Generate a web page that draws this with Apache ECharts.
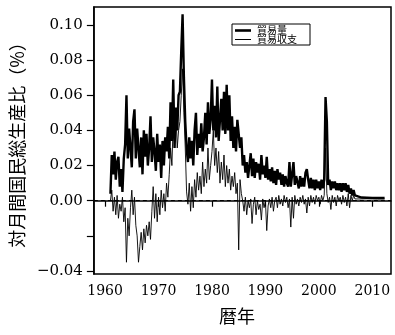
<!DOCTYPE html>
<html>
<head>
<meta charset="utf-8">
<script src="https://cdn.jsdelivr.net/npm/echarts@6/dist/echarts.min.js"></script>
<style>
html,body{margin:0;padding:0;background:#fff;}
#chart{width:395px;height:335px;}
</style>
</head>
<body>
<div id="chart"></div>
<script>
// Quarterly samples starting 1961.00, step 0.25 year
const startYear = 1961.0;
const stepYear = 0.25;
const volume = [
  0.004,0.026,0.015,0.028, 0.012,0.022,0.025,0.008, 0.018,0.005,0.024,0.032,
  0.060,0.024,0.041,0.030, 0.019,0.045,0.052,0.024, 0.041,0.030,0.019,0.036,
  0.015,0.040,0.025,0.038, 0.020,0.030,0.048,0.022, 0.036,0.028,0.017,0.038,
  0.022,0.032,0.013,0.034, 0.020,0.036,0.028,0.042, 0.024,0.056,0.034,0.069,
  0.030,0.053,0.040,0.060, 0.062,0.085,0.106,0.070, 0.045,0.030,0.022,0.036,
  0.024,0.034,0.020,0.040, 0.050,0.026,0.038,0.030, 0.044,0.028,0.036,0.050,
  0.032,0.056,0.038,0.046, 0.069,0.040,0.054,0.036, 0.065,0.034,0.046,0.058,
  0.040,0.062,0.038,0.066, 0.040,0.060,0.034,0.048, 0.030,0.042,0.028,0.046,
  0.047,0.030,0.036,0.020, 0.026,0.016,0.022,0.013, 0.020,0.027,0.014,0.024,
  0.013,0.022,0.016,0.021, 0.012,0.026,0.015,0.020, 0.013,0.025,0.012,0.018,
  0.011,0.019,0.010,0.017, 0.009,0.018,0.012,0.016, 0.009,0.015,0.008,0.014,
  0.010,0.008,0.022,0.008, 0.015,0.022,0.009,0.014, 0.013,0.007,0.014,0.008,
  0.013,0.008,0.016,0.018, 0.012,0.007,0.013,0.007, 0.012,0.006,0.012,0.007,
  0.011,0.006,0.012,0.007, 0.012,0.059,0.045,0.009, 0.012,0.006,0.011,0.007,
  0.011,0.006,0.010,0.006, 0.010,0.005,0.010,0.006, 0.010,0.005,0.009,0.004,
  0.007,0.003,0.006,0.003
];
const balance = [
  0.000,0.006,-0.006,0.002, -0.008,0.003,-0.010,-0.002, -0.006,0.002,-0.012,-0.004,
  -0.035,-0.010,-0.020,-0.004, 0.006,-0.008,0.002,-0.014, -0.020,-0.035,-0.026,-0.018,
  -0.028,-0.016,-0.024,-0.014, -0.020,-0.012,-0.022,-0.006, 0.008,-0.010,0.004,-0.012,
  0.002,-0.008,0.006,-0.004, 0.004,-0.006,0.010,0.002, 0.015,0.030,0.020,0.045,
  0.035,0.050,0.030,0.040, 0.045,0.060,0.075,0.050, 0.030,0.005,-0.002,0.010,
  -0.006,0.008,-0.004,0.012, 0.002,0.016,0.006,0.014, 0.004,0.022,0.008,0.018,
  0.010,0.030,0.012,0.020, 0.028,0.040,0.020,0.030, 0.016,0.028,0.010,0.022,
  0.012,0.026,0.008,0.020, 0.010,0.018,0.006,0.014, 0.008,0.016,0.004,0.010,
  -0.028,0.012,0.004,0.000, -0.006,0.002,-0.008,0.000, -0.004,0.001,-0.013,-0.002,
  0.002,-0.008,0.000,-0.005, -0.002,-0.011,0.001,-0.004, 0.000,-0.017,-0.003,0.001,
  -0.004,0.002,-0.006,0.000, 0.002,-0.004,0.003,-0.002, 0.001,-0.003,0.003,-0.001,
  0.002,-0.004,0.001,-0.015, 0.002,-0.010,0.003,-0.002, 0.001,-0.003,0.002,-0.001,
  0.003,-0.002,0.001,-0.007, 0.002,-0.003,0.003,-0.001, 0.002,-0.002,0.003,0.000,
  0.002,-0.002,0.003,0.000, 0.003,0.030,0.004,-0.001, 0.002,-0.005,0.003,-0.001,
  0.002,-0.003,0.003,0.000, 0.002,-0.002,0.003,-0.001, 0.002,-0.003,0.004,-0.004,
  0.003,0.000,0.003,0.001
];
// Tail after 2007 (both series close to zero)
const tailYears = [2007.0, 2008.0, 2009.0, 2010.0, 2011.0, 2012.3];
const volumeTail = [0.0022, 0.0018, 0.0017, 0.0016, 0.0016, 0.0015];
const balanceTail = [0.0012, 0.0010, 0.0011, 0.0010, 0.0009, 0.0010];

const xTicks = [1960, 1970, 1980, 1990, 2000, 2010];
const yTicks = [-0.04, -0.02, 0.00, 0.02, 0.04, 0.06, 0.08, 0.10];
const yLabels = [-0.04, 0.00, 0.02, 0.04, 0.06, 0.08, 0.10];

const seriesNames = ['貿易量', '貿易収支'];
const xTitle = '暦年';
const yTitle = '対月間国民総生産比（%）';

function build(vals, tYears, tVals) {
  const out = vals.map((v, i) => [startYear + i * stepYear, v]);
  tYears.forEach((y, i) => out.push([y, tVals[i]]));
  return out;
}

const serif = '"DejaVu Serif", "Liberation Serif", serif';
const cjk = '"Noto Sans CJK JP", sans-serif';

const chart = echarts.init(document.getElementById('chart'), null, {renderer: 'canvas'});
chart.setOption({
  animation: false,
  backgroundColor: '#fff',
  grid: {left: 80, right: 4, top: 7, bottom: 61, show: true, borderColor: '#000', borderWidth: 1.5, backgroundColor: 'transparent'},
  graphic: [
    {type: 'rect', z: 100, shape: {x: 232, y: 24, width: 78, height: 21},
      style: {fill: '#fff', stroke: '#000', lineWidth: 1}},
    {type: 'line', z: 101, shape: {x1: 235, y1: 30.5, x2: 251, y2: 30.5},
      style: {stroke: '#000', lineWidth: 2.6}},
    {type: 'text', z: 101, x: 257, y: 30.5,
      style: {text: seriesNames[0], font: '10px "Noto Sans CJK JP"', fill: '#000', verticalAlign: 'middle'}},
    {type: 'line', z: 101, shape: {x1: 235, y1: 39.5, x2: 251, y2: 39.5},
      style: {stroke: '#000', lineWidth: 1}},
    {type: 'text', z: 101, x: 257, y: 39.5,
      style: {text: seriesNames[1], font: '10px "Noto Sans CJK JP"', fill: '#000', verticalAlign: 'middle'}}
  ],
  xAxis: {
    type: 'value', min: 1957.9, max: 2013.5,
    name: xTitle, nameLocation: 'middle', nameGap: 33,
    nameTextStyle: {fontFamily: cjk, fontSize: 18, color: '#000', padding: [0, 11, 0, 0]},
    axisLine: {show: true, lineStyle: {color: '#000', width: 1.5}},
    axisTick: {show: true, inside: false, length: 6, customValues: xTicks, lineStyle: {color: '#000', width: 1.2}},
    axisLabel: {customValues: xTicks, margin: 10, fontFamily: serif, fontSize: 14, color: '#000', formatter: v => String(v)},
    splitLine: {show: false}
  },
  yAxis: {
    type: 'value', min: -0.0417, max: 0.1102,
    name: yTitle, nameLocation: 'middle', nameGap: 58, nameRotate: 90,
    nameTextStyle: {fontFamily: cjk, fontSize: 18, color: '#000'},
    axisLine: {show: true, lineStyle: {color: '#000', width: 1.5}},
    axisTick: {show: true, inside: false, length: 7, customValues: yTicks, lineStyle: {color: '#000', width: 1.2}},
    axisLabel: {customValues: yLabels, margin: 11, fontFamily: serif, fontSize: 15, color: '#000',
      formatter: v => (v < 0 ? '\u2212' + Math.abs(v).toFixed(2) : v.toFixed(2))},
    splitLine: {show: false}
  },
  series: [
    {
      name: seriesNames[0], type: 'line', data: build(volume, tailYears, volumeTail),
      symbol: 'none', showSymbol: false,
      lineStyle: {color: '#000', width: 2.4}, itemStyle: {color: '#000'},
      markLine: {
        silent: true, symbol: 'none', label: {show: false},
        lineStyle: {color: '#000', type: [4, 3], width: 1},
        data: [{yAxis: 0}]
      }
    },
    {
      name: seriesNames[1], type: 'line', data: build(balance, tailYears, balanceTail),
      symbol: 'none', showSymbol: false,
      lineStyle: {color: '#000', width: 0.9}, itemStyle: {color: '#000'}
    }
  ]
});
</script>
</body>
</html>
